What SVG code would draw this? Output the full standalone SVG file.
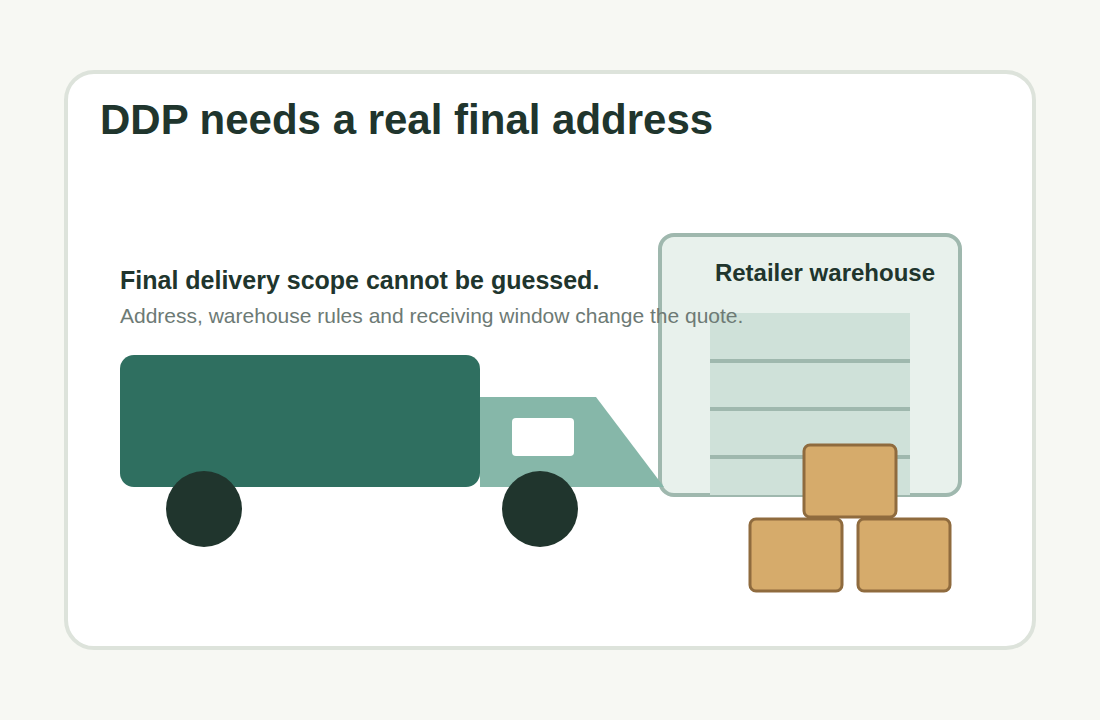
<svg xmlns="http://www.w3.org/2000/svg" width="1100" height="720" viewBox="0 0 1100 720">
<style>
text{font-family:"Liberation Sans",Arial,sans-serif}
.title{font-size:42px;font-weight:700;fill:#20352d}
.head{font-size:24px;font-weight:700;fill:#20352d}
.cap{font-size:25px}
.sub{font-size:21px;fill:#6d7a75}
.slat{fill:none;stroke:#9fb8ae;stroke-width:4}
.box{fill:#d6ab6b;stroke:#8f6b3e;stroke-width:3}
.wheel{fill:#20352d}
</style>
<rect width="1100" height="720" fill="#f7f8f3"/>
<rect id="card" x="66" y="72" width="968" height="576" rx="28" fill="#fff" stroke="#dde3db" stroke-width="4"/>
<text class="title" x="100" y="134">DDP needs a real final address</text>
<g id="warehouse">
<rect x="660" y="235" width="300" height="260" rx="14" fill="#e8f1ec" stroke="#9fb8ae" stroke-width="4"/>
<rect x="710" y="313" width="200" height="182" fill="#cfe1d9"/>
<path class="slat" d="M710 361H910M710 409H910M710 457H910"/>
<text class="head" x="935" y="281" text-anchor="end">Retailer warehouse</text>
</g>
<g id="truck">
<rect x="120" y="355" width="360" height="132" rx="14" fill="#2f6f60"/>
<polygon points="480,397 596,397 664,487 480,487" fill="#86b7a9"/>
<rect x="512" y="418" width="62" height="38" rx="4" fill="#fff"/>
<circle class="wheel" cx="204" cy="509" r="38"/>
<circle class="wheel" cx="540" cy="509" r="38"/>
</g>
<g id="boxes">
<rect class="box" x="750" y="519" width="92" height="72" rx="6"/>
<rect class="box" x="858" y="519" width="92" height="72" rx="6"/>
<rect class="box" x="804" y="445" width="92" height="72" rx="6"/>
</g>
<g id="caption">
<text class="head cap" x="120" y="289">Final delivery scope cannot be guessed.</text>
<text class="sub" x="120" y="323">Address, warehouse rules and receiving window change the quote.</text>
</g>
</svg>
